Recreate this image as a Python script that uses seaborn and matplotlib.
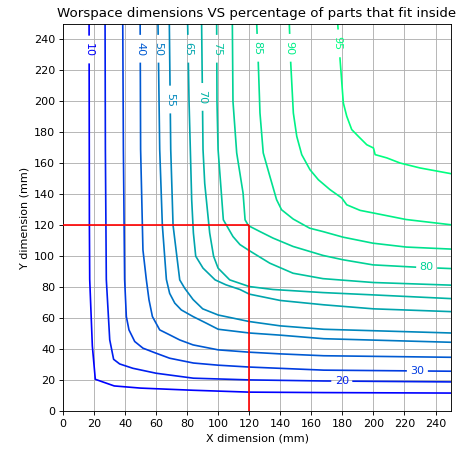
import matplotlib

matplotlib.use("Agg")

import matplotlib.pyplot as plt
import numpy as np
import pandas as pd
import seaborn as sns

# percentage levels of the contour lines
levels = [10, 20, 30, 40, 50, 55, 65, 70, 75, 80, 85, 90, 95]

# each contour traced from the top edge down and out to the right edge (mm)
x10 = [16.8, 17.0, 17.2, 18.9, 20.8, 25, 33, 50, 84, 120, 168, 250]
y10 = [250, 120, 85, 42, 20.5, 19, 16.2, 14.8, 13.4, 12.2, 11.9, 11.6]

x20 = [27.1, 27.3, 27.9, 30.1, 32.6, 36.5, 45, 60, 84, 120, 168, 250]
y20 = [250, 169, 85, 46, 33.4, 30.4, 27.6, 24.4, 21.2, 20.1, 19.4, 18.8]

x30 = [38.5, 38.9, 39.7, 40.8, 42.5, 46.2, 51.5, 59, 68.7, 84, 100, 120, 168, 250]
y30 = [250, 169, 85, 61, 52.4, 44.9, 40.6, 37.7, 34.1, 31, 29.6, 28.4, 26.4, 25.7]

x40 = [49.7, 50, 51.5, 53.7, 55.4, 57.6, 62.3, 68.7, 75.2, 83.8, 100, 120, 140, 168, 250]
y40 = [250, 169, 104, 84.7, 71.8, 61, 52.4, 49.2, 45.9, 42.7, 39.5, 38, 36.9, 35.7, 34.7]

x50 = [61.2, 62.3, 64, 66.6, 68.7, 72, 76.2, 83.8, 92.4, 100, 120, 140, 168, 250]
y50 = [250, 169, 120, 85, 76, 69.7, 65.3, 61, 56.7, 52.8, 50.4, 49, 46.7, 44.4]

x55 = [68.5, 69.4, 70.9, 75.2, 78.4, 83.8, 90, 100, 120, 140, 168, 250]
y55 = [250, 169, 120, 84.7, 79.3, 72, 66, 62, 57.8, 55, 52.8, 50.4]

x65 = [80.3, 81.2, 82.9, 84, 85.5, 90.2, 98, 105, 114, 120, 140, 168, 200, 250]
y65 = [250, 200, 136.5, 115, 100, 92.3, 84.7, 81.5, 78.5, 75.5, 71.4, 68.6, 66, 64.2]

x70 = [89.3, 90.2, 91.3, 94.5, 97, 99.9, 107.4, 120, 135.3, 167.5, 200, 250]
y70 = [250, 169, 147, 115, 100, 92.3, 84.7, 80.4, 78.5, 76.5, 75, 72.6]

x75 = [99, 99.2, 99.9, 103.3, 109.5, 114, 119.2, 133.2, 148.2, 167.5, 200, 250]
y75 = [250, 200, 169, 123.5, 112.7, 107.5, 104.1, 95.5, 89, 85.5, 83, 81.3]

x80 = [109.1, 109.5, 111.9, 116, 117.3, 119.5, 126.7, 135.3, 148.2, 167.5, 180.4, 199.7, 227.6, 250]
y80 = [250, 200, 166.7, 140.8, 123.5, 119.7, 116, 111.7, 106.3, 100.5, 97.7, 94.4, 92.9, 92]

x85 = [124.8, 125.8, 126.9, 129, 133.3, 137.6, 140.8, 148.3, 158.9, 167.5, 180.4, 199.7, 221.2, 250]
y85 = [250, 225, 192.5, 166.7, 151.5, 136.5, 130, 124, 118.1, 115.9, 112.3, 108.4, 105.9, 104.6]

x90 = [145.8, 146.7, 148.4, 150.6, 153.8, 159.1, 164.5, 172, 179.6, 182.8, 191.4, 200, 221, 250]
y90 = [250, 225, 192.5, 177.4, 165.6, 155.9, 149.4, 143, 137.6, 133.2, 129.6, 127.9, 123.7, 120.3]

x95 = [177, 178.5, 180.6, 182.8, 186, 190.3, 195.7, 200, 201.1, 208.6, 217.1, 230, 250]
y95 = [250, 227, 199, 190.4, 181.8, 177.4, 172, 169.9, 165.6, 163.5, 160.2, 157, 153.3]

curves = [(x10, y10), (x20, y20), (x30, y30), (x40, y40), (x50, y50), (x55, y55), (x65, y65),
          (x70, y70), (x75, y75), (x80, y80), (x85, y85), (x90, y90), (x95, y95)]

# inline contour labels
label_levels = [10, 40, 50, 55, 65, 70, 75, 85, 90, 95, 80, 30, 20]
label_x = [16.8, 49.9, 61.4, 69.0, 80.5, 89.6, 99.1, 125.0, 145.9, 177.0, 234.3, 228.3, 179.6]
label_y = [233.5, 234, 234, 201.2, 234, 202.9, 234, 234.6, 234.6, 237.4, 93, 26, 19.4]

target_x = 120
target_y = 120


def split_line(xs, ys, cx, cy, half):
    """Cut a gap of +-half (data units along the line) around the label centre."""
    xs = np.asarray(xs, dtype=float)
    ys = np.asarray(ys, dtype=float)
    s = np.concatenate([[0.0], np.cumsum(np.hypot(np.diff(xs), np.diff(ys)))])
    best_d, s_c = np.inf, 0.0
    for i in range(len(xs) - 1):
        dx, dy = xs[i + 1] - xs[i], ys[i + 1] - ys[i]
        seg_len2 = dx * dx + dy * dy
        t = np.clip(((cx - xs[i]) * dx + (cy - ys[i]) * dy) / seg_len2, 0, 1)
        d = np.hypot(xs[i] + t * dx - cx, ys[i] + t * dy - cy)
        if d < best_d:
            best_d, s_c = d, s[i] + t * np.sqrt(seg_len2)
    s0, s1 = s_c - half, s_c + half
    keep0 = s < s0
    keep1 = s > s1
    part0 = (np.append(xs[keep0], np.interp(s0, s, xs)), np.append(ys[keep0], np.interp(s0, s, ys)))
    part1 = (np.insert(xs[keep1], 0, np.interp(s1, s, xs)), np.insert(ys[keep1], 0, np.interp(s1, s, ys)))
    return [part0, part1]


rows = []
seg_id = 0
for level, (xs, ys) in zip(levels, curves):
    parts = [(np.asarray(xs, float), np.asarray(ys, float))]
    if level in label_levels:
        k = label_levels.index(level)
        vertical = label_y[k] > 150
        parts = split_line(xs, ys, label_x[k], label_y[k], 9.5 if vertical else 7.3)
    for px, py in parts:
        for a, b in zip(px, py):
            rows.append({"x": a, "y": b, "level": level, "seg": seg_id})
        seg_id += 1
frame = pd.DataFrame(rows)

fig = plt.figure(figsize=(465 / 80, 449 / 80), dpi=80)
ax = fig.add_axes([0.1355, 0.0846, 0.8345, 0.862])

sns.lineplot(data=frame, x="x", y="y", hue="level", units="seg", estimator=None, sort=False,
             palette="winter", hue_norm=(min(levels), max(levels)), legend=False,
             linewidth=1.5, ax=ax)

cmap = plt.get_cmap("winter")
for level, lx, ly in zip(label_levels, label_x, label_y):
    color = cmap((level - min(levels)) / (max(levels) - min(levels)))
    ax.text(lx, ly, str(level), color=color, fontsize=10, ha="center", va="center",
            rotation=270 if ly > 150 else 0, rotation_mode="anchor")

ax.hlines(target_y, 0, target_x, color="red", linewidth=1.5, zorder=5)
ax.vlines(target_x, 0, target_y, color="red", linewidth=1.5, zorder=5)

ax.set_xlim(0, 250)
ax.set_ylim(0, 250)
ax.set_xticks(np.arange(0, 250, 20))
ax.set_yticks(np.arange(0, 250, 20))
ax.grid(True)
ax.set_axisbelow(True)
ax.set_xlabel("X dimension (mm)")
ax.set_ylabel("Y dimension (mm)")
ax.set_title("Worspace dimensions VS percentage of parts that fit inside")

fig.savefig("out.png", dpi=80)
plt.close(fig)
